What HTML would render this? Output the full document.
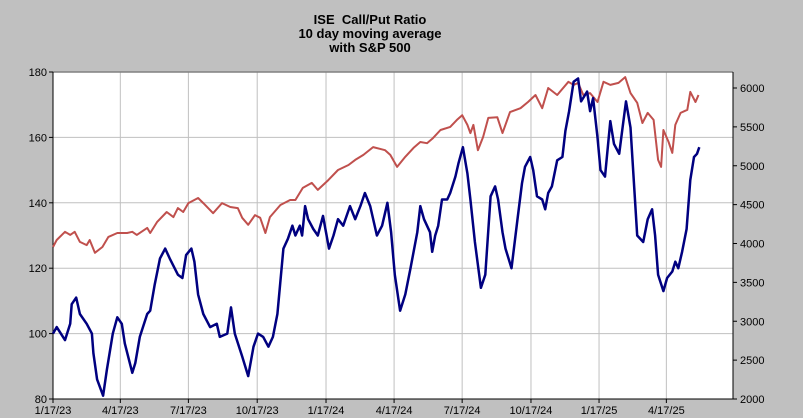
<!DOCTYPE html>
<html><head><meta charset="utf-8"><style>
body{margin:0;background:#c0c0c0;}
svg{display:block;font-family:"Liberation Sans",Arial,sans-serif;}
</style></head><body>
<svg id="chart" width="803" height="418" viewBox="0 0 803 418">
<rect x="0" y="0" width="803" height="418" fill="#c0c0c0"/>
<g font-size="13" font-weight="bold" text-anchor="middle" fill="#000">
<text x="370" y="24">ISE &#160;Call/Put Ratio</text>
<text x="370" y="38">10 day moving average</text>
<text x="370" y="52">with S&amp;P 500</text>
</g>
<rect x="53" y="72" width="680" height="327" fill="#fff"/>
<g id="grid"></g><g id="axes"></g><g id="series"></g>
</svg>
<script>
const ratioDays=[0,5,16,23,25,31,36,45,52,54,59,67,72,80,86,92,96,106,110,116,126,130,136,143,150,156,167,173,178,185,189,194,201,210,219,223,233,238,243,253,261,268,274,281,288,294,300,308,314,320,324,330,333,337,341,348,354,361,369,375,381,388,397,404,411,417,424,433,440,447,452,457,464,471,478,487,491,496,504,507,511,515,520,527,531,538,542,548,554,558,564,572,578,585,591,595,601,605,613,621,627,631,638,642,647,654,658,662,667,674,681,685,690,696,702,706,714,718,722,728,732,738,745,750,757,762,766,772,781,789,795,801,805,809,816,821,828,832,836,841,847,852,857,861,864];
const ratioValues=[100,102,98,103,109,111,106,103,100,94,86,81,89,100,105,103,97,88,91,99,106,107,115,123,126,123,118,117,124,126,122,112,106,102,103,99,100,108,100,93,87,96,100,99,96,99,106,126,129,133,130,133,130,139,135,132,130,136,126,130,135,133,139,135,139,143,139,130,133,140,131,118,107,112,120,131,139,135,131,125,130,133,141,141,143,148,152,157,149,141,128,114,118,142,145,141,131,126,120,135,146,151,154,150,142,141,138,143,145,153,154,162,168,177,178,171,174,168,172,160,150,148,165,158,155,164,171,163,130,128,135,138,130,118,113,117,119,122,120,125,132,147,154,155,157];
const spxDays=[0,5,16,23,29,36,45,49,56,66,74,86,99,106,112,126,130,139,152,161,167,174,181,194,201,214,226,237,247,253,261,270,277,284,290,304,317,324,334,346,354,368,381,395,404,415,428,444,451,460,471,482,491,500,508,518,531,540,547,554,558,562,568,575,582,594,601,611,625,635,645,654,662,674,689,696,702,709,718,728,736,745,756,765,772,781,788,795,803,809,813,816,823,828,832,839,848,852,859,863];
const spxValues=[3955,4045,4150,4110,4150,4020,3980,4045,3880,3955,4085,4135,4135,4150,4110,4200,4135,4275,4405,4340,4455,4405,4520,4585,4520,4390,4520,4470,4455,4330,4240,4365,4330,4135,4340,4495,4560,4560,4715,4780,4690,4815,4945,5010,5075,5140,5240,5200,5140,4985,5115,5230,5305,5290,5355,5460,5500,5590,5650,5525,5420,5525,5200,5370,5615,5625,5420,5690,5740,5820,5910,5740,6000,5910,6080,6040,6065,5910,5935,5820,6080,6040,6065,6140,5935,5810,5550,5680,5590,5075,4985,5460,5305,5165,5525,5680,5720,5950,5820,5910];
const leftTicks=[80,100,120,140,160,180];
const rightTicks=[2000,2500,3000,3500,4000,4500,5000,5500,6000];
const xTickDays=[0,90,181,273,365,456,547,639,730,820];
const xTickLabels=["1/17/23","4/17/23","7/17/23","10/17/23","1/17/24","4/17/24","7/17/24","10/17/24","1/17/25","4/17/25"];

const L=53,R=733,T=72,B=399;
const xS=d=>L+d*0.748;
const yL=v=>B-(v-80)*(B-T)/100;
const yR=v=>B-(v-2000)*(B-88)/4000;
const NS="http://www.w3.org/2000/svg";
function mk(tag,attrs,parent){const e=document.createElementNS(NS,tag);for(const k in attrs)e.setAttribute(k,attrs[k]);parent.appendChild(e);return e;}
const gridG=document.getElementById('grid'),axesG=document.getElementById('axes'),seriesG=document.getElementById('series');
leftTicks.forEach(v=>{
  const y=yL(v);
  if(v>80&&v<180){const g=mk('line',{x1:L,x2:R,y1:y,y2:y,stroke:'#c0c0c0','stroke-width':1},gridG);
  
  }
  mk('line',{x1:L-4,x2:L,y1:y,y2:y,stroke:'#000'},axesG);
  const t=mk('text',{x:L-6,y:y+4,'text-anchor':'end','font-size':11},axesG);t.textContent=v;
  
  
});
rightTicks.forEach(v=>{
  const y=yR(v);
  mk('line',{x1:R,x2:R+4,y1:y,y2:y,stroke:'#000'},axesG);
  const t=mk('text',{x:R+7,y:y+4,'font-size':11},axesG);t.textContent=v;
  
  
});
xTickDays.forEach((d,i)=>{
  const x=xS(d);
  if(i>0){const g=mk('line',{x1:x,x2:x,y1:T,y2:B,stroke:'#c0c0c0','stroke-width':1},gridG);
  
  }
  mk('line',{x1:x,x2:x,y1:B,y2:B+4,stroke:'#000'},axesG);
  const t=mk('text',{x:x,y:414,'text-anchor':'middle','font-size':11},axesG);t.textContent=xTickLabels[i];
  
  
});
const plotTop=mk('line',{x1:L,x2:R,y1:T,y2:T,stroke:'#808080','stroke-width':1.5},axesG);


const la=mk('line',{x1:L,x2:L,y1:T,y2:B,stroke:'#000'},axesG);


const ra=mk('line',{x1:R,x2:R,y1:T,y2:B,stroke:'#000'},axesG);


const ba=mk('line',{x1:L,x2:R,y1:B,y2:B,stroke:'#000'},axesG);



const n1=Math.min(spxDays.length,spxValues.length);
let p1='';for(let i=0;i<n1;i++)p1+=(i?'L':'M')+xS(spxDays[i]).toFixed(1)+','+yR(spxValues[i]).toFixed(1);
const s1=mk('path',{d:p1,fill:'none',stroke:'#c0504d','stroke-width':2,'stroke-linejoin':'round'},seriesG);


const n2=Math.min(ratioDays.length,ratioValues.length);
let p2='';for(let i=0;i<n2;i++)p2+=(i?'L':'M')+xS(ratioDays[i]).toFixed(1)+','+yL(ratioValues[i]).toFixed(1);
const s2=mk('path',{d:p2,fill:'none',stroke:'#000080','stroke-width':2.5,'stroke-linejoin':'round'},seriesG);


</script>
</body></html>
